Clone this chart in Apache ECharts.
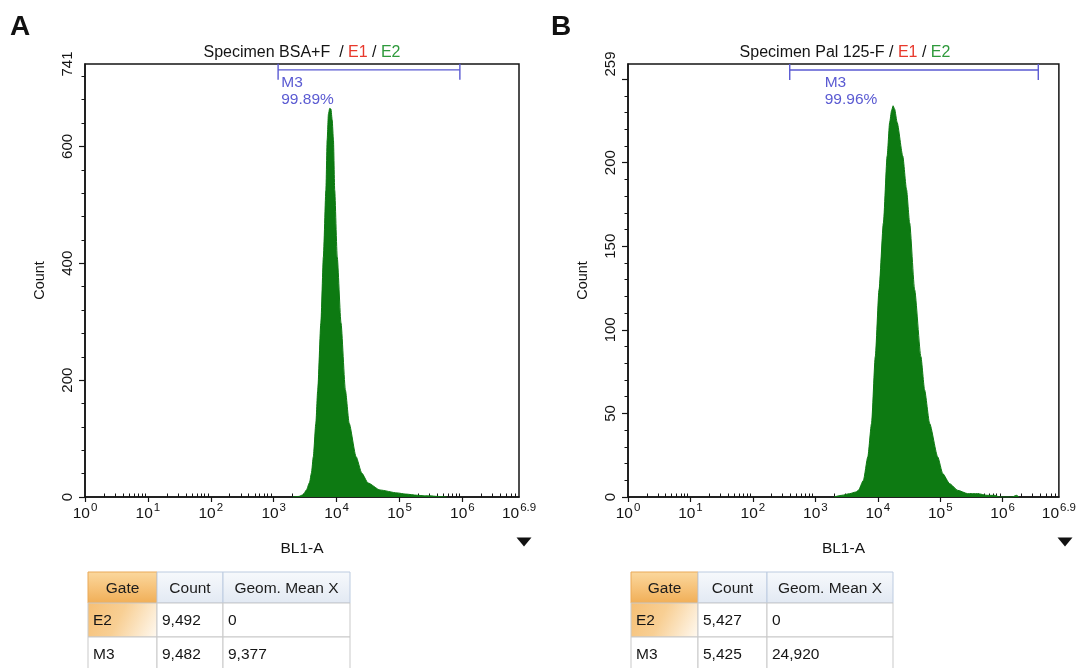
<!DOCTYPE html>
<html>
<head>
<meta charset="utf-8">
<script src="https://cdn.jsdelivr.net/npm/echarts@6/dist/echarts.min.js"></script>
<style>
  html, body { margin: 0; padding: 0; background: #ffffff; }
  #chart { width: 1079px; height: 668px; }
</style>
</head>
<body>
<div id="chart"></div>
<script>
// ---- Histogram values: BL1-A channel, x given as log10(intensity) ----
const bsaLogX  = [3.30, 3.40, 3.47, 3.52, 3.57, 3.60, 3.63, 3.67, 3.70, 3.75, 3.79, 3.83, 3.85, 3.87, 3.89, 3.91, 3.93, 3.95, 3.97, 4.01, 4.07, 4.14, 4.20, 4.31, 4.40, 4.50, 4.69, 4.96, 5.10, 5.28, 5.40, 5.48, 5.60, 5.75];
const bsaCount = [0,    1,    4,    12,   25,   41,   69,   126,  183,  298,  411,  525,  611,  655,  665,  664,  645,  611,  525,  411,  298,  183,  126,  69,   41,   24,   12,   7,    5,    3,    2,    2,    1,    0];

const palLogX  = [3.30, 3.42, 3.55, 3.65, 3.69, 3.77, 3.84, 3.90, 3.96, 4.02, 4.09, 4.15, 4.19, 4.22, 4.245, 4.27, 4.31, 4.40, 4.46, 4.51, 4.59, 4.69, 4.75, 4.83, 4.96, 5.04, 5.15, 5.28, 5.44, 5.60, 5.75, 5.87, 5.95, 6.15, 6.22, 6.26];
const palCount = [0,    1,    2,    3,    4,    10,   24,   44,   84,   124,  164,  204,  224,  231,  234,   232,  224,  204,  184,  164,  124,  84,   64,   44,   24,   14,   8,    4,    2,    2,    1,    1,    0,    0,    1,    0];

// ---- Axis ticks / labels ----
const xDecades = [0, 1, 2, 3, 4, 5, 6];
const xLabelExponents = [0, 1, 2, 3, 4, 5, 6, 6.9];
const xMax = 6.9;
const bsaYMax = 741;
const bsaYLabels = [0, 200, 400, 600, 741];
const bsaYMinorStep = 40;
const palYMax = 259;
const palYLabels = [0, 50, 100, 150, 200, 259];
const palYMajorTicks = [0, 50, 100, 150, 200, 250];
const palYMinorStep = 10;

// ---- Gates (marker M3) ----
const bsaGate = { name: 'M3', percent: '99.89%', from: 3.07, to: 5.96, level: 731,   labelAt: 3.12 };
const palGate = { name: 'M3', percent: '99.96%', from: 2.59, to: 6.57, level: 255.4, labelAt: 3.15 };

// ---- Statistics tables ----
const tableHeader = ['Gate', 'Count', 'Geom. Mean X'];
const bsaRows = [['E2', '9,492', '0'], ['M3', '9,482', '9,377']];
const palRows = [['E2', '5,427', '0'], ['M3', '5,425', '24,920']];

// ---- Titles ----
const bsaSpecimen = 'Specimen BSA+F  / ';
const palSpecimen = 'Specimen Pal 125-F / ';

const FONT = '"Liberation Sans", Arial, sans-serif';
const INK = '#141414';
const GREEN = '#0d7a12';
const GATE_BLUE = '#5a5ad2';

const zip = (xs, ys) => xs.map((x, i) => [x, ys[i]]);

// log-decade minor ticks (2..9 within each decade)
const xMinor = [];
xDecades.forEach(d => {
  for (let k = 2; k <= 9; k++) {
    const v = d + Math.log10(k);
    if (v < xMax) xMinor.push(v);
  }
});
function minorSteps(step, max, skip) {
  const out = [];
  for (let v = step; v < max; v += step) if (skip.indexOf(v) < 0) out.push(v);
  return out;
}
const bsaYMinor = minorSteps(bsaYMinorStep, bsaYMax, bsaYLabels);
const palYMinor = minorSteps(palYMinorStep, palYMax, palYMajorTicks);

const chart = echarts.init(document.getElementById('chart'), null, { renderer: 'canvas' });

const gridA = { left: 85, top: 64, width: 434, height: 433 };
const gridB = { left: 628, top: 64, width: 434, height: 433 };

function xAxes(gridIndex) {
  return [
    {
      type: 'value', gridIndex, min: 0, max: xMax, position: 'bottom',
      axisLine: { onZero: false, lineStyle: { color: INK, width: 1.5 } },
      axisTick: { customValues: xDecades, length: 5, lineStyle: { color: INK, width: 1.2 } },
      axisLabel: {
        customValues: xLabelExponents, margin: 5,
        formatter: v => '{b|10}{s|' + v + '}',
        rich: {
          b: { fontSize: 15.5, fontFamily: FONT, color: INK, lineHeight: 20, verticalAlign: 'bottom' },
          s: { fontSize: 11.5, fontFamily: FONT, color: INK, lineHeight: 20, verticalAlign: 'top', padding: [0, 0, 2, 1] }
        }
      },
      splitLine: { show: false },
      name: 'BL1-A', nameLocation: 'middle', nameGap: 44,
      nameTextStyle: { fontSize: 15.5, fontFamily: FONT, color: INK }
    },
    {
      type: 'value', gridIndex, min: 0, max: xMax, position: 'bottom',
      axisLine: { show: false, onZero: false },
      axisTick: { inside: true, customValues: xMinor, length: 3.5, lineStyle: { color: INK, width: 1 } },
      axisLabel: { show: false },
      splitLine: { show: false }
    }
  ];
}

function yAxes(gridIndex, max, labels, majors, minors) {
  return [
    {
      type: 'value', gridIndex, min: 0, max, position: 'left',
      axisLine: { show: true, onZero: false, lineStyle: { color: INK, width: 1.5 } },
      axisTick: { show: true, customValues: majors, length: 6, lineStyle: { color: INK, width: 1.2 } },
      axisLabel: { customValues: labels, rotate: 90, margin: 10, fontSize: 15, fontFamily: FONT, color: INK },
      splitLine: { show: false },
      name: 'Count', nameLocation: 'middle', nameGap: 38,
      nameTextStyle: { fontSize: 14.5, fontFamily: FONT, color: INK }
    },
    {
      type: 'value', gridIndex, min: 0, max, position: 'left',
      axisLine: { show: false, onZero: false },
      axisTick: { show: true, customValues: minors, length: 3.5, lineStyle: { color: INK, width: 1 } },
      axisLabel: { show: false },
      splitLine: { show: false }
    }
  ];
}

function histogram(name, xIdx, yIdx, pts) {
  return {
    name, type: 'line', xAxisIndex: xIdx, yAxisIndex: yIdx,
    data: pts, showSymbol: false, smooth: 0.2, smoothMonotone: 'x',
    lineStyle: { color: GREEN, width: 1 },
    areaStyle: { color: GREEN, opacity: 1 },
    silent: true, z: 3
  };
}

function gateSeries(gate, xIdx, yIdx) {
  return {
    type: 'custom', xAxisIndex: xIdx, yAxisIndex: yIdx, clip: false, silent: true, z: 5,
    data: [[gate.from, gate.to, gate.level, gate.labelAt]],
    renderItem: (params, api) => {
      const a = api.coord([api.value(0), api.value(2)]);
      const b = api.coord([api.value(1), api.value(2)]);
      const t = api.coord([api.value(3), api.value(2)]);
      const st = { stroke: GATE_BLUE, lineWidth: 1.4 };
      return {
        type: 'group',
        children: [
          { type: 'line', shape: { x1: a[0], y1: a[1], x2: b[0], y2: b[1] }, style: st },
          { type: 'line', shape: { x1: a[0], y1: a[1] - 6, x2: a[0], y2: a[1] + 10 }, style: st },
          { type: 'line', shape: { x1: b[0], y1: b[1] - 6, x2: b[0], y2: b[1] + 10 }, style: st },
          {
            type: 'text', x: t[0], y: a[1] + 4,
            style: {
              text: gate.name + '\n' + gate.percent, fill: GATE_BLUE,
              font: '15.5px ' + FONT, lineHeight: 17, align: 'left', verticalAlign: 'top'
            }
          }
        ]
      };
    }
  };
}

// ---- Table drawing ----
function buildTable(x0, y0, colW, rowH, rows) {
  const els = [];
  const grayLine = '#c9c9c9';
  let x = x0;
  // header
  tableHeader.forEach((h, c) => {
    const w = colW[c];
    const fill = c === 0
      ? new echarts.graphic.LinearGradient(0, 0, 0, 1, [
          { offset: 0, color: '#fbd89e' }, { offset: 0.55, color: '#f6c177' }, { offset: 1, color: '#f0ae56' }])
      : new echarts.graphic.LinearGradient(0, 0, 0, 1, [
          { offset: 0, color: '#f7f9fc' }, { offset: 1, color: '#e2e9f3' }]);
    els.push({ type: 'rect', shape: { x, y: y0, width: w, height: rowH[0] },
      style: { fill, stroke: c === 0 ? '#e9a959' : '#bccbe0', lineWidth: 1 } });
    els.push({ type: 'text', x: x + w / 2, y: y0 + rowH[0] / 2 + 1,
      style: { text: h, font: '15.5px ' + FONT, fill: '#1c1c1c', align: 'center', verticalAlign: 'middle' } });
    x += w;
  });
  // body rows
  let y = y0 + rowH[0];
  rows.forEach((row, r) => {
    let cx = x0;
    row.forEach((cell, c) => {
      const w = colW[c];
      let fill = '#ffffff';
      if (r === 0 && c === 0) {
        fill = new echarts.graphic.LinearGradient(0, 0, 1, 1, [
          { offset: 0, color: '#f6bf74' }, { offset: 0.45, color: '#f8cf94' }, { offset: 1, color: '#fffaf2' }]);
      }
      els.push({ type: 'rect', shape: { x: cx, y, width: w, height: rowH[r + 1] },
        style: { fill, stroke: grayLine, lineWidth: 1 } });
      els.push({ type: 'text', x: cx + 5, y: y + rowH[r + 1] / 2 + 1,
        style: { text: cell, font: '15.5px ' + FONT, fill: '#151515', align: 'left', verticalAlign: 'middle' } });
      cx += w;
    });
    y += rowH[r + 1];
  });
  return els;
}

function titleText(cx, specimen) {
  return {
    type: 'text', x: cx, y: 45,
    style: {
      text: '{k|' + specimen + '}{r|E1}{k| / }{g|E2}',
      align: 'center', verticalAlign: 'top',
      rich: {
        k: { fontSize: 16, fontFamily: FONT, fill: INK, color: INK },
        r: { fontSize: 16, fontFamily: FONT, fill: '#e8392c', color: '#e8392c' },
        g: { fontSize: 16, fontFamily: FONT, fill: '#2f9a3c', color: '#2f9a3c' }
      }
    }
  };
}

function triangle(cx, cy) {
  return { type: 'polygon', shape: { points: [[cx - 7.5, cy - 4.5], [cx + 7.5, cy - 4.5], [cx, cy + 4.5]] },
    style: { fill: '#111' } };
}

const graphics = [
  { type: 'text', x: 10, y: 13, style: { text: 'A', font: 'bold 28px ' + FONT, fill: '#111' } },
  { type: 'text', x: 551, y: 13, style: { text: 'B', font: 'bold 28px ' + FONT, fill: '#111' } },
  titleText(302, bsaSpecimen),
  titleText(845, palSpecimen),
  triangle(524, 542),
  triangle(1065, 542)
].concat(
  buildTable(88, 572, [69, 66, 127], [31, 34, 34], bsaRows),
  buildTable(631, 572, [67, 69, 126], [31, 34, 34], palRows)
);

const option = {
  backgroundColor: '#ffffff',
  animation: false,
  grid: [
    Object.assign({ show: true, borderColor: INK, borderWidth: 1.5, backgroundColor: 'transparent' }, gridA),
    Object.assign({ show: true, borderColor: INK, borderWidth: 1.5, backgroundColor: 'transparent' }, gridB)
  ],
  xAxis: xAxes(0).concat(xAxes(1)),
  yAxis: yAxes(0, bsaYMax, bsaYLabels, [0, 200, 400, 600], bsaYMinor)
    .concat(yAxes(1, palYMax, palYLabels, palYMajorTicks, palYMinor)),
  series: [
    histogram('Specimen BSA+F', 0, 0, zip(bsaLogX, bsaCount)),
    histogram('Specimen Pal 125-F', 2, 2, zip(palLogX, palCount)),
    gateSeries(bsaGate, 0, 0),
    gateSeries(palGate, 2, 2)
  ],
  graphic: graphics
};

chart.setOption(option);
</script>
</body>
</html>
